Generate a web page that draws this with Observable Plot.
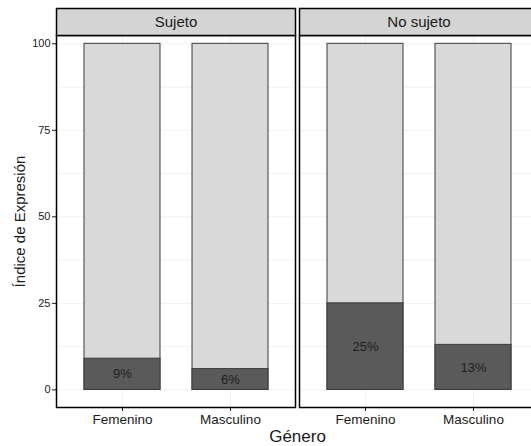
<!DOCTYPE html>
<html>
<head>
<meta charset="utf-8">
<script src="https://cdn.jsdelivr.net/npm/d3@7"></script>
<script src="https://cdn.jsdelivr.net/npm/@observablehq/plot@0.6"></script>
<style>
  html, body { margin: 0; padding: 0; background: #fff; overflow: hidden; }
  #chart svg { display: block; font-family: "Liberation Sans", Arial, sans-serif; }
</style>
</head>
<body>
<div id="chart"></div>
<script>
const facetas = ["Sujeto", "No sujeto"];
const generos = ["Femenino", "Masculino"];
const pctSujeto = [9, 6];
const pctNoSujeto = [25, 13];
const totales = [100, 100];
const yTicks = [0, 25, 50, 75, 100];
const yGrid = [0, 12.5, 25, 37.5, 50, 62.5, 75, 87.5, 100];

const filas = [];
facetas.forEach((f, i) => {
  const vals = i === 0 ? pctSujeto : pctNoSujeto;
  generos.forEach((g, j) => {
    filas.push({faceta: f, genero: g, pct: vals[j], total: totales[j], mid: vals[j] / 2});
  });
});

const yMin = -5.1, yMax = 102.4;

const chart = Plot.plot({
  width: 531,
  height: 446,
  marginTop: 35,
  marginBottom: 39,
  marginLeft: 55,
  marginRight: -8,
  style: {fontFamily: "Liberation Sans, Arial, sans-serif", color: "#1a1a1a", background: "#fff"},
  fx: {domain: facetas, paddingInner: 0.016, paddingOuter: 0, axis: "bottom", tickFormat: () => "", tickSize: 0,
       label: "Género", labelAnchor: "center", labelOffset: 34, labelArrow: "none"},
  x: {domain: generos, paddingInner: 0.3, paddingOuter: 0.25, label: null},
  y: {domain: [yMin, yMax], label: null},
  marks: [
    Plot.gridY(yGrid, {stroke: "#ececec", strokeOpacity: 1, strokeWidth: 0.8}),
    Plot.gridX(generos, {stroke: "#ececec", strokeOpacity: 1, strokeWidth: 0.8}),
    Plot.barY(filas, {fx: "faceta", x: "genero", y1: 0, y2: "total", fill: "#d9d9d9", stroke: "#3a3a3a", strokeWidth: 1}),
    Plot.barY(filas, {fx: "faceta", x: "genero", y1: 0, y2: "pct", fill: "#5a5a5a", stroke: "#3a3a3a", strokeWidth: 1}),
    Plot.text(filas, {fx: "faceta", x: "genero", y: "mid", text: d => d.pct + "%", fill: "#1e1e1e", fontSize: 13}),
    Plot.axisY(yTicks, {tickSize: 4, tickPadding: 2, fontSize: 11, label: "Índice de Expresión", labelAnchor: "center", labelOffset: 42, labelArrow: "none", tickFormat: d => d}),
    Plot.axisX({tickSize: 4, tickPadding: 3, fontSize: 13.5, label: null}),
    Plot.frame({stroke: "#000", strokeWidth: 1.5}),
    Plot.frame({fill: "#d4d4d4", stroke: "#000", strokeWidth: 1.5, insetTop: -27, insetBottom: 372}),
    Plot.text(facetas, {fx: d => d, text: d => d, frameAnchor: "top", lineAnchor: "middle", dy: -13.5, fontSize: 15, fill: "#1a1a1a"})
  ]
});
chart.querySelectorAll("g[aria-label='y-axis label'] text").forEach(t => {
  t.setAttribute("font-size", "15");
  t.textContent = t.textContent.replace(/\s*[→↑]\s*/g, "");
});
chart.querySelectorAll("g[aria-label='fx-axis label'] text").forEach(t => {
  t.setAttribute("font-size", "17");
  t.textContent = t.textContent.replace(/\s*[→↑]\s*/g, "");
});
document.getElementById("chart").appendChild(chart);
</script>
</body>
</html>
